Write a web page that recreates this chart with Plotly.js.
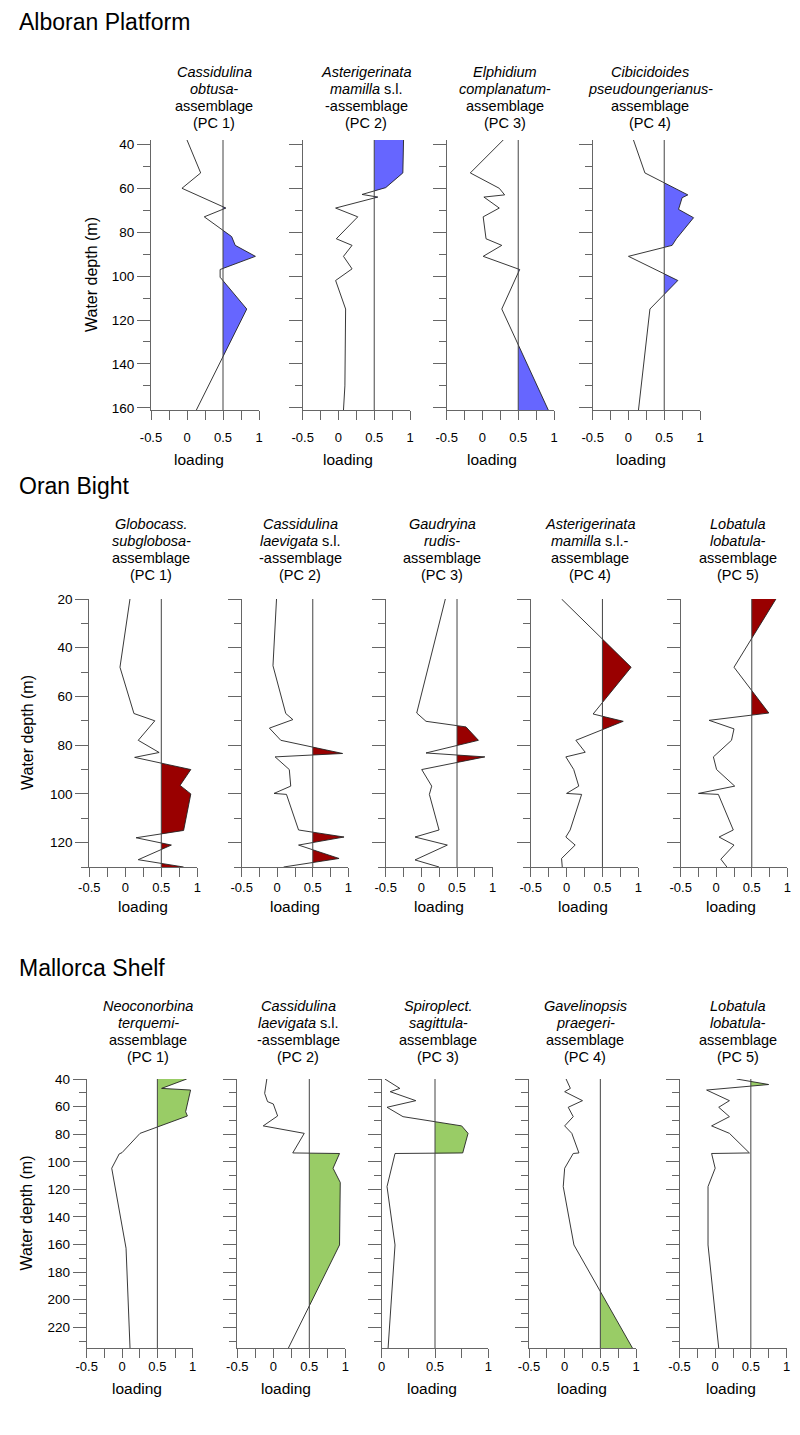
<!DOCTYPE html>
<html><head><meta charset="utf-8">
<script src="https://cdn.plot.ly/plotly-3.0.1.min.js"></script>
<style>body{margin:0;background:#fff}#chart{width:800px;height:1435px}</style>
</head><body><div id="chart"></div>
<script>
// ---------------- DATA ----------------
// Alboran Platform
const albDepth1 = [38, 53, 60, 69, 73, 82, 86, 91, 97, 100.5, 115, 161];
const albLoad1  = [0.0, 0.19, -0.07, 0.54, 0.24, 0.62, 0.67, 0.95, 0.46, 0.46, 0.83, 0.13];
const albDepth2 = [38, 53, 59.7, 62.8, 64, 69, 73, 83, 86, 91, 96.7, 102, 115, 150, 161];
const albLoad2  = [0.91, 0.90, 0.66, 0.33, 0.55, -0.04, 0.27, -0.03, 0.19, 0.07, 0.19, -0.04, 0.10, 0.09, 0.07];
const albDepth3 = [38, 53, 60, 63, 64, 69, 73, 83, 86, 91, 97, 115, 161];
const albLoad3  = [0.29, -0.17, 0.235, 0.31, 0.02, 0.235, 0.01, 0.05, 0.27, 0.01, 0.52, 0.27, 0.92];
const albDepth4 = [38, 53, 63, 64.3, 69.6, 73.4, 83, 86, 91, 102, 115, 161];
const albLoad4  = [0.07, 0.23, 0.83, 0.75, 0.70, 0.91, 0.67, 0.61, 0.0, 0.69, 0.30, 0.14];
// Oran Bight
const oraDepth1 = [20, 48, 67, 70, 78, 83, 85, 90, 96.5, 100, 115, 118, 121, 127, 130];
const oraLoad1  = [0.065, -0.074, 0.12, 0.41, 0.18, 0.47, 0.13, 0.91, 0.76, 0.91, 0.81, 0.15, 0.64, 0.18, 0.81];
const oraDepth2 = [20, 47.4, 67, 69.5, 73, 78, 83.4, 84.8, 90, 96.8, 99.8, 100.2, 114.8, 117.7, 121, 126.5, 130];
const oraLoad2  = [-0.01, -0.06, 0.12, 0.22, -0.11, 0.05, 0.92, -0.03, 0.17, 0.19, -0.045, 0.13, 0.30, 0.94, 0.30, 0.87, 0.09];
const oraDepth3 = [20, 66.8, 70.2, 72.5, 78, 83.2, 84.8, 90, 96.8, 100.2, 114.8, 117.7, 121, 127.1, 130];
const oraLoad3  = [0.336, -0.065, 0.065, 0.626, 0.80, 0.065, 0.89, 0.005, 0.145, 0.112, 0.248, -0.089, 0.364, -0.089, 0.248];
const oraDepth4 = [20, 48, 67.2, 70.2, 78, 82.9, 84.8, 90, 96.8, 99.8, 100.2, 114.8, 117.7, 121, 126.5, 130];
const oraLoad4  = [-0.07, 0.90, 0.37, 0.79, 0.13, 0.26, -0.01, 0.10, 0.17, 0.0, 0.21, 0.05, -0.01, 0.12, -0.07, -0.06];
const oraDepth5 = [20, 48, 66.8, 69.8, 73.3, 78, 84.8, 90, 96.8, 99.8, 100.2, 114.8, 117.7, 121, 126.8, 130];
const oraLoad5  = [0.84, 0.25, 0.74, -0.10, 0.25, 0.215, -0.04, 0.005, 0.26, -0.25, 0.03, 0.24, 0.04, 0.25, 0.065, 0.15];
// Mallorca Shelf
const malDepth1 = [40, 46.8, 48, 63.7, 66.8, 79.4, 93.4, 94.3, 104.7, 162.7, 235];
const malLoad1  = [0.915, 0.56, 0.97, 0.90, 0.925, 0.255, 0.0, -0.04, -0.146, 0.057, 0.113];
const malDepth2 = [40, 50.4, 56.4, 58.1, 66.8, 74, 79.4, 93.6, 94, 104.7, 115, 160.3, 235];
const malLoad2  = [-0.09, -0.12, -0.08, 0.0, 0.06, -0.14, 0.43, 0.27, 0.92, 0.83, 0.93, 0.92, 0.21];
const malDepth3 = [40, 46.8, 49.2, 55.7, 60.5, 67.3, 74, 79.4, 93.6, 94, 118, 160.3, 235];
const malLoad3  = [0.03, 0.17, 0.08, 0.32, 0.05, 0.20, 0.75, 0.81, 0.76, 0.125, 0.05, 0.125, 0.06];
const malDepth4 = [40, 46.8, 49.2, 55.7, 60.5, 67.3, 74, 79.4, 93.6, 94, 104.7, 118, 160.3, 235];
const malLoad4  = [0.02, 0.08, 0.0, 0.25, 0.05, 0.12, 0.0, 0.1, 0.2, 0.12, 0.0, -0.02, 0.13, 0.95];
const malDepth5 = [40, 44, 48, 55.7, 60.5, 67.3, 74, 79.4, 93.6, 94, 104.7, 118, 160.3, 235];
const malLoad5  = [0.3, 0.75, -0.12, 0.2, 0.05, 0.2, -0.05, 0.2, 0.48, -0.05, 0.0, -0.1, -0.1, 0.05];

const regionNames = ['Alboran Platform', 'Oran Bight', 'Mallorca Shelf'];
const albTitles = [
  ['<i>Cassidulina</i>', '<i>obtusa</i>-', 'assemblage', '(PC 1)'],
  ['<i>Asterigerinata</i>', '<i>mamilla</i> s.l.', '-assemblage', '(PC 2)'],
  ['<i>Elphidium</i>', '<i>complanatum</i>-', 'assemblage', '(PC 3)'],
  ['<i>Cibicidoides</i>', '<i>pseudoungerianus</i>-', 'assemblage', '(PC 4)']
];
const oraTitles = [
  ['<i>Globocass.</i>', '<i>subglobosa</i>-', 'assemblage', '(PC 1)'],
  ['<i>Cassidulina</i>', '<i>laevigata</i> s.l.', '-assemblage', '(PC 2)'],
  ['<i>Gaudryina</i>', '<i>rudis</i>-', 'assemblage', '(PC 3)'],
  ['<i>Asterigerinata</i>', '<i>mamilla</i> s.l.-', 'assemblage', '(PC 4)'],
  ['<i>Lobatula</i>', '<i>lobatula</i>-', 'assemblage', '(PC 5)']
];
const malTitles = [
  ['<i>Neoconorbina</i>', '<i>terquemi</i>-', 'assemblage', '(PC 1)'],
  ['<i>Cassidulina</i>', '<i>laevigata</i> s.l.', '-assemblage', '(PC 2)'],
  ['<i>Spiroplect.</i>', '<i>sagittula</i>-', 'assemblage', '(PC 3)'],
  ['<i>Gavelinopsis</i>', '<i>praegeri</i>-', 'assemblage', '(PC 4)'],
  ['<i>Lobatula</i>', '<i>lobatula</i>-', 'assemblage', '(PC 5)']
];
const xTickVals = [-0.5, 0, 0.5, 1];
const xTickText = ['-0.5', '0', '0.5', '1'];
const xTickVals01 = [0, 0.5, 1];
const xTickText01 = ['0', '0.5', '1'];
const threshold = 0.5;

// ---------------- LAYOUT CONFIG ----------------
const W = 800, H = 1435;
const FONT = '"Liberation Sans", Arial, sans-serif';
const regions = [
  {titleY: 22, top: 140, bottom: 410, yr: [161, 38], fill: '#6666ff', ylabX: 92, lines: [72, 89, 106, 123], standoff: 6, loadY: 459},
  {titleY: 486, top: 599, bottom: 867, yr: [130, 20], fill: '#990000', ylabX: 27, lines: [524, 541, 558, 575], standoff: -1, loadY: 907},
  {titleY: 968, top: 1079, bottom: 1348, yr: [235, 40], fill: '#99cc66', ylabX: 26, lines: [1006, 1023, 1040, 1057], standoff: -3, loadY: 1388}
];
const panels = [
  {r: 0, d: albDepth1, v: albLoad1, x0: 151, x1: 259, t: albTitles[0], tx: 214, lx: 199, first: true},
  {r: 0, d: albDepth2, v: albLoad2, x0: 302.7, x1: 410, t: albTitles[1], tx: 366, lx: 348},
  {r: 0, d: albDepth3, v: albLoad3, x0: 446.7, x1: 554, t: albTitles[2], tx: 505, lx: 492},
  {r: 0, d: albDepth4, v: albLoad4, x0: 592.7, x1: 700, t: albTitles[3], tx: 650, lx: 641},
  {r: 1, d: oraDepth1, v: oraLoad1, x0: 89.3, x1: 197.3, t: oraTitles[0], tx: 151, lx: 143},
  {r: 1, d: oraDepth2, v: oraLoad2, x0: 241.7, x1: 348.3, t: oraTitles[1], tx: 300, lx: 295},
  {r: 1, d: oraDepth3, v: oraLoad3, x0: 385.7, x1: 492.7, t: oraTitles[2], tx: 442, lx: 439},
  {r: 1, d: oraDepth4, v: oraLoad4, x0: 530.7, x1: 638.3, t: oraTitles[3], tx: 590, lx: 583},
  {r: 1, d: oraDepth5, v: oraLoad5, x0: 680.7, x1: 787.3, t: oraTitles[4], tx: 738, lx: 731},
  {r: 2, d: malDepth1, v: malLoad1, x0: 86.7, x1: 192.7, t: malTitles[0], tx: 148, lx: 137},
  {r: 2, d: malDepth2, v: malLoad2, x0: 237.3, x1: 345.3, t: malTitles[1], tx: 298, lx: 286},
  {r: 2, d: malDepth3, v: malLoad3, x0: 381.7, x1: 488.3, t: malTitles[2], tx: 438, lx: 432, zeroOne: true},
  {r: 2, d: malDepth4, v: malLoad4, x0: 529, x1: 636, t: malTitles[3], tx: 585, lx: 582},
  {r: 2, d: malDepth5, v: malLoad5, x0: 679.5, x1: 786.5, t: malTitles[4], tx: 738, lx: 731}
];
panels[0].first = panels[4].first = panels[9].first = true;

function fillPolygon(d, v, thr) {
  const xs = [thr], ys = [d[0]];
  for (let i = 0; i < d.length; i++) {
    xs.push(Math.max(v[i], thr)); ys.push(d[i]);
    if (i < d.length - 1 && (v[i] - thr) * (v[i + 1] - thr) < 0) {
      const t = (thr - v[i]) / (v[i + 1] - v[i]);
      xs.push(thr); ys.push(d[i] + t * (d[i + 1] - d[i]));
    }
  }
  xs.push(thr); ys.push(d[d.length - 1]);
  return {xs, ys};
}

const traces = [], shapes = [], annotations = [];
const layout = {
  width: W, height: H, margin: {l: 0, r: 0, t: 0, b: 0},
  paper_bgcolor: '#fff', plot_bgcolor: 'rgba(0,0,0,0)',
  showlegend: false, font: {family: FONT, color: '#000', size: 13}
};
const px = x => x / W, py = y => 1 - y / H;

regionNames.forEach((name, k) => {
  const reg = regions[k];
  annotations.push({text: name, xref: 'paper', yref: 'paper', x: px(17), y: py(reg.titleY),
    xanchor: 'left', yanchor: 'middle', showarrow: false, font: {size: 23, family: FONT, color: '#000'}});
  annotations.push({text: 'Water depth (m)', textangle: -90, xref: 'paper', yref: 'paper',
    x: px(reg.ylabX), y: py((reg.top + reg.bottom) / 2), xanchor: 'center', yanchor: 'middle',
    showarrow: false, font: {size: 16, family: FONT, color: '#000'}});
});

panels.forEach((p, idx) => {
  const i = idx + 1;
  const reg = regions[p.r];
  const xa = 'x' + (i === 1 ? '' : i), ya = 'y' + (i === 1 ? '' : i);
  const xr = p.zeroOne ? [0, 1] : [-0.5, 1];
  layout['xaxis' + (i === 1 ? '' : i)] = {
    domain: [px(p.x0), px(p.x1)], range: xr, anchor: ya, fixedrange: true,
    showline: true, linecolor: '#666', linewidth: 1, zeroline: false, showgrid: false,
    ticks: 'outside', ticklen: 9, tickwidth: 1, tickcolor: '#666',
    tickmode: 'array', tickvals: p.zeroOne ? xTickVals01 : xTickVals, ticktext: p.zeroOne ? xTickText01 : xTickText,
    minor: {ticks: 'outside', ticklen: 9, tickwidth: 1, tickcolor: '#666', dtick: 0.25, tick0: 0, showgrid: false},
    tickfont: {size: 13, family: FONT, color: '#000'}, ticklabelstandoff: reg.standoff
  };
  layout['yaxis' + (i === 1 ? '' : i)] = {
    domain: [py(reg.bottom), py(reg.top)], range: reg.yr, anchor: xa, fixedrange: true,
    showline: true, linecolor: '#666', linewidth: 1, zeroline: false, showgrid: false,
    ticks: 'outside', ticklen: 13, tickwidth: 1, tickcolor: '#666',
    tickmode: 'linear', tick0: 0, dtick: 20, showticklabels: !!p.first,
    minor: {ticks: 'outside', ticklen: 7, tickwidth: 1, tickcolor: '#666', dtick: 10, tick0: 0, showgrid: false},
    tickfont: {size: 13.5, family: FONT, color: '#000'}
  };
  const poly = fillPolygon(p.d, p.v, threshold);
  traces.push({type: 'scatter', mode: 'lines', x: poly.xs, y: poly.ys, xaxis: xa, yaxis: ya,
    fill: 'toself', fillcolor: reg.fill, line: {width: 0, color: reg.fill}, hoverinfo: 'skip'});
  traces.push({type: 'scatter', mode: 'lines', x: p.v, y: p.d, xaxis: xa, yaxis: ya,
    line: {color: '#222', width: 0.9}, hoverinfo: 'skip'});
  shapes.push({type: 'line', xref: xa, yref: ya + ' domain', x0: threshold, x1: threshold, y0: 0, y1: 1,
    line: {color: '#444', width: 1}, layer: 'above'});
  p.t.forEach((line, j) => {
    annotations.push({text: line, xref: 'paper', yref: 'paper', x: px(p.tx), y: py(reg.lines[j]),
      xanchor: 'center', yanchor: 'middle', showarrow: false, font: {size: 14.5, family: FONT, color: '#000'}});
  });
  annotations.push({text: 'loading', xref: 'paper', yref: 'paper', x: px(p.lx), y: py(reg.loadY),
    xanchor: 'center', yanchor: 'middle', showarrow: false, font: {size: 15.5, family: FONT, color: '#000'}});
});

layout.shapes = shapes;
layout.annotations = annotations;
Plotly.newPlot('chart', traces, layout, {staticPlot: true});
</script>
</body></html>
